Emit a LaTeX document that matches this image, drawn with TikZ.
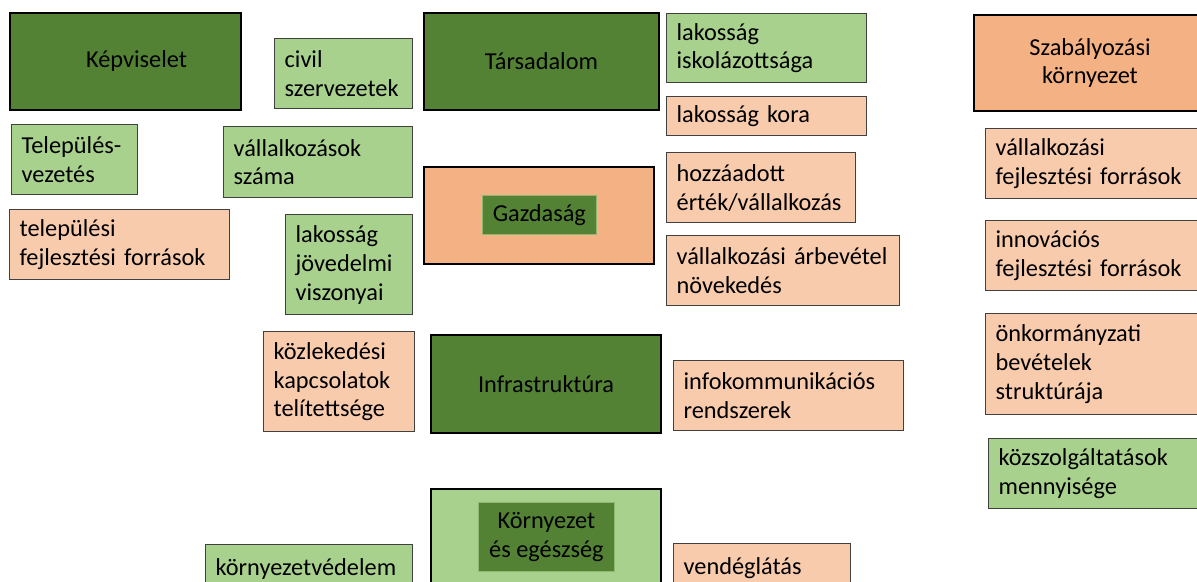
\documentclass[tikz,border=0pt]{standalone}
\usepackage{fontspec}
\setmainfont{Carlito}
\usepackage{tikz}
\definecolor{kgreen}{RGB}{84,130,53}
\definecolor{lgreen}{RGB}{169,209,142}
\definecolor{lpeach}{RGB}{248,203,173}
\definecolor{dpeach}{RGB}{244,177,131}
\definecolor{boxgray}{RGB}{64,64,64}
\tikzset{
  bigbox/.style={rectangle,draw=black,line width=1.4pt,anchor=north west,align=center},
  smallbox/.style={rectangle,draw=boxgray,line width=0.9pt,anchor=north west,align=left,
    inner xsep=0.25cm,inner ysep=0.1cm},
  innerbox/.style={rectangle,draw=lgreen!70!kgreen,line width=0.5pt,anchor=north west,align=center},
}

\begin{document}
\begin{tikzpicture}[x=0.025cm,y=-0.025cm,font=\fontsize{17.3}{20.6}\selectfont]
  \useasboundingbox (0,0) rectangle (1197,581);
  % left column
  \node (kepv) at (9,12) [bigbox,fill=kgreen,minimum width=5.775cm,minimum height=2.425cm] {\hspace*{0.55cm}Képviselet};
  \node (civil) at (274,38) [smallbox,fill=lgreen,text width=2.95cm,minimum height=1.75cm] {civil\\szervezetek};
  \node (telvez) at (11,124) [smallbox,fill=lgreen,text width=2.65cm,minimum height=1.75cm] {Település-\\vezetés};
  \node (valszam) at (223,126) [smallbox,fill=lgreen,text width=4.225cm,minimum height=1.775cm] {vállalkozások\\száma};
  \node (telfor) at (9,209) [smallbox,fill=lpeach,text width=5cm,minimum height=1.75cm] {települési\\fejlesztési források};
  \node (lakjov) at (285,214) [smallbox,fill=lgreen,text width=2.675cm,minimum height=2.5cm] {lakosság\\jövedelmi\\viszonyai};
  \node (kozlek) at (263,331) [smallbox,fill=lpeach,text width=3.275cm,minimum height=2.5cm] {közlekedési\\kapcsolatok\\telítettsége};
  \node (kornyved) at (205,544) [smallbox,fill=lgreen,text width=4.675cm,minimum height=1.2cm] {környezetvédelem};
  % middle column
  \node (tars) at (423,12) [bigbox,fill=kgreen,minimum width=5.875cm,minimum height=2.425cm] {Társadalom};
  \node (gazd) at (423,166) [bigbox,fill=dpeach,minimum width=5.75cm,minimum height=2.425cm] {};
  \node (gazdtxt) at (482,195) [innerbox,fill=kgreen,minimum width=2.85cm,minimum height=0.975cm] {Gazdaság};
  \node (infra) at (430,334) [bigbox,fill=kgreen,minimum width=5.75cm,minimum height=2.45cm] {Infrastruktúra};
  \node (korny) at (430,488) [bigbox,fill=lgreen,minimum width=5.75cm,minimum height=2.75cm] {};
  \node (kornytxt) at (478,502) [innerbox,fill=kgreen,minimum width=3.4cm,minimum height=1.725cm] {Környezet\\és egészség};
  % right of the middle
  \node (lakisk) at (666,13) [smallbox,fill=lgreen,text width=4.5cm,minimum height=1.725cm] {lakosság\\iskolázottsága};
  \node (lakkor) at (666,96) [smallbox,fill=lpeach,text width=4.5cm,minimum height=0.975cm] {lakosság kora};
  \node (hozzaad) at (666,152) [smallbox,fill=lpeach,text width=4.225cm,minimum height=1.75cm] {hozzáadott\\érték/vállalkozás};
  \node (arbev) at (666,235) [smallbox,fill=lpeach,text width=5.325cm,minimum height=1.75cm] {vállalkozási árbevétel\\növekedés};
  \node (infokom) at (673,360) [smallbox,fill=lpeach,text width=5.25cm,minimum height=1.75cm] {infokommunikációs\\rendszerek};
  \node (vendeg) at (673,543) [smallbox,fill=lpeach,text width=3.925cm,minimum height=1.2cm] {vendéglátás};
  % right column
  \node (szab) at (973,14) [bigbox,fill=dpeach,minimum width=5.8cm,minimum height=2.4cm] {Szabályozási\\környezet};
  \node (valfor) at (985,128) [smallbox,fill=lpeach,text width=5cm,minimum height=1.75cm] {vállalkozási\\fejlesztési források};
  \node (innov) at (985,220) [smallbox,fill=lpeach,text width=5cm,minimum height=1.75cm] {innovációs\\fejlesztési források};
  \node (onkorm) at (985,313) [smallbox,fill=lpeach,text width=5cm,minimum height=2.525cm] {önkormányzati\\bevételek\\struktúrája};
  \node (kozszolg) at (988,438) [smallbox,fill=lgreen,text width=4.925cm,minimum height=1.75cm] {közszolgáltatások\\mennyisége};
\end{tikzpicture}
\end{document}
